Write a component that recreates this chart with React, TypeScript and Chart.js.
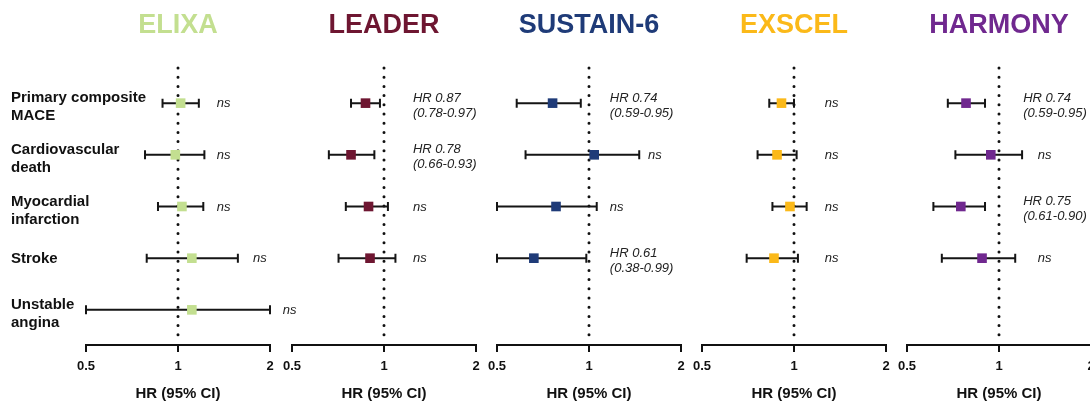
import React, { useEffect, useRef } from 'react';
import { Chart, registerables } from 'chart.js';

Chart.register(...registerables);

const FONT = "'Liberation Sans', Arial, Helvetica, sans-serif";

// ---------- data ----------
const trials = ['ELIXA', 'LEADER', 'SUSTAIN-6', 'EXSCEL', 'HARMONY'];
const trialColors = ['#c3df90', '#6e1631', '#1f3b78', '#fbb919', '#70288f'];
const outcomes = [
  ['Primary composite', 'MACE'],
  ['Cardiovascular', 'death'],
  ['Myocardial', 'infarction'],
  ['Stroke'],
  ['Unstable', 'angina'],
];
const xTicks = [0.5, 1, 2];
const axisTitle = 'HR (95% CI)';

const elixaHR = [1.02, 0.98, 1.03, 1.11, 1.11];
const elixaLow = [0.89, 0.78, 0.86, 0.79, 0.47];
const elixaHigh = [1.17, 1.22, 1.21, 1.57, 2.62];
const elixaNotes = ['ns', 'ns', 'ns', 'ns', 'ns'];

const leaderHR = [0.87, 0.78, 0.89, 0.9, null];
const leaderLow = [0.78, 0.66, 0.75, 0.71, null];
const leaderHigh = [0.97, 0.93, 1.03, 1.09, null];
const leaderNotes = ['HR 0.87\n(0.78-0.97)', 'HR 0.78\n(0.66-0.93)', 'ns', 'ns', null];

const sustainHR = [0.76, 1.04, 0.78, 0.66, null];
const sustainLow = [0.58, 0.62, 0.5, 0.38, null];
const sustainHigh = [0.94, 1.46, 1.06, 0.98, null];
const sustainNotes = ['HR 0.74\n(0.59-0.95)', 'ns', 'ns', 'HR 0.61\n(0.38-0.99)', null];

const exscelHR = [0.91, 0.88, 0.97, 0.86, null];
const exscelLow = [0.83, 0.76, 0.85, 0.7, null];
const exscelHigh = [1.0, 1.02, 1.1, 1.03, null];
const exscelNotes = ['ns', 'ns', 'ns', 'ns', null];

const harmonyHR = [0.78, 0.94, 0.75, 0.88, null];
const harmonyLow = [0.68, 0.72, 0.61, 0.65, null];
const harmonyHigh = [0.9, 1.19, 0.9, 1.13, null];
const harmonyNotes = ['HR 0.74\n(0.59-0.95)', 'ns', 'HR 0.75\n(0.61-0.90)', 'ns', null];

// ---------- layout (annotation anchors in HR units, panel geometry) ----------
const elixaNoteAt = [1.34, 1.34, 1.34, 1.76, 2.2];
const leaderNoteAt = [1.244, 1.244, 1.244, 1.244, null];
const sustainNoteAt = [1.17, 1.56, 1.17, 1.17, null];
const exscelNoteAt = [1.26, 1.26, 1.26, 1.26, null];
const harmonyNoteAt = [1.2, 1.34, 1.2, 1.34, null];

const AXIS_LEFT = [86, 292, 497, 702, 907];
const AXIS_W = 184;
const CANVAS_H = 401;
const ROW_LABEL_X = 11;

const panels = [
  { hr: elixaHR, lo: elixaLow, hi: elixaHigh, notes: elixaNotes, noteAt: elixaNoteAt },
  { hr: leaderHR, lo: leaderLow, hi: leaderHigh, notes: leaderNotes, noteAt: leaderNoteAt },
  { hr: sustainHR, lo: sustainLow, hi: sustainHigh, notes: sustainNotes, noteAt: sustainNoteAt },
  { hr: exscelHR, lo: exscelLow, hi: exscelHigh, notes: exscelNotes, noteAt: exscelNoteAt },
  { hr: harmonyHR, lo: harmonyLow, hi: harmonyHigh, notes: harmonyNotes, noteAt: harmonyNoteAt },
].map((p, i) => ({ ...p, name: trials[i], color: trialColors[i], showRows: i === 0 }));

function geometry(idx: number) {
  const padLeft = idx === 0 ? AXIS_LEFT[0] : 40;
  const left = AXIS_LEFT[idx] - padLeft;
  const width = padLeft + AXIS_W + 70;
  return { left, width, padLeft, padRight: width - padLeft - AXIS_W };
}

function forestPlugin(p: any) {
  return {
    id: 'forest' + p.name,
    beforeDatasetsDraw(chart: any) {
      const { ctx, chartArea } = chart;
      const x = chart.scales.x;
      const y = chart.scales.y;
      const cx = x.getPixelForValue(1);
      ctx.save();
      ctx.strokeStyle = '#111';
      ctx.lineWidth = 3;
      ctx.lineCap = 'round';
      ctx.setLineDash([0, 9.2]);
      ctx.beginPath();
      ctx.moveTo(cx, chartArea.top);
      ctx.lineTo(cx, chartArea.bottom - 4);
      ctx.stroke();
      ctx.setLineDash([]);
      ctx.lineCap = 'butt';
      ctx.lineWidth = 2;
      ctx.strokeStyle = '#151515';
      p.hr.forEach((v: number | null, i: number) => {
        if (v == null) return;
        const yy = y.getPixelForValue(i);
        const x1 = x.getPixelForValue(Math.max(p.lo[i], x.min));
        const x2 = x.getPixelForValue(Math.min(p.hi[i], x.max));
        ctx.beginPath();
        ctx.moveTo(x1, yy);
        ctx.lineTo(x2, yy);
        ctx.moveTo(x1, yy - 4.5);
        ctx.lineTo(x1, yy + 4.5);
        ctx.moveTo(x2, yy - 4.5);
        ctx.lineTo(x2, yy + 4.5);
        ctx.stroke();
      });
      ctx.restore();
    },
    afterDraw(chart: any) {
      const { ctx } = chart;
      const x = chart.scales.x;
      const y = chart.scales.y;
      ctx.save();
      // title
      ctx.fillStyle = p.color;
      ctx.font = `bold 27px ${FONT}`;
      ctx.textAlign = 'center';
      ctx.textBaseline = 'alphabetic';
      ctx.fillText(p.name, x.getPixelForValue(1), 33);
      // row labels
      if (p.showRows) {
        ctx.fillStyle = '#111';
        ctx.font = `bold 15px ${FONT}`;
        ctx.textAlign = 'left';
        outcomes.forEach((lines, i) => {
          const yy = y.getPixelForValue(i);
          if (lines.length === 1) {
            ctx.fillText(lines[0], ROW_LABEL_X, yy + 5);
          } else {
            ctx.fillText(lines[0], ROW_LABEL_X, yy - 1);
            ctx.fillText(lines[1], ROW_LABEL_X, yy + 17);
          }
        });
      }
      // annotations
      ctx.fillStyle = '#222';
      ctx.font = `italic 13px ${FONT}`;
      ctx.textAlign = 'left';
      p.notes.forEach((n: string | null, i: number) => {
        if (!n) return;
        const yy = y.getPixelForValue(i);
        const xx = x.getPixelForValue(p.noteAt[i]);
        const lines = n.split('\n');
        if (lines.length === 1) {
          ctx.fillText(lines[0], xx, yy + 4);
        } else {
          ctx.fillText(lines[0], xx, yy - 1.5);
          ctx.fillText(lines[1], xx, yy + 13.5);
        }
      });
      ctx.restore();
    },
  };
}

function Panel({ idx }: { idx: number }) {
  const ref = useRef<HTMLCanvasElement | null>(null);
  const g = geometry(idx);
  useEffect(() => {
    const p = panels[idx];
    const data = p.hr
      .map((v: number | null, i: number) => (v == null ? null : { x: v, y: i }))
      .filter(Boolean);
    const chart = new Chart(ref.current as HTMLCanvasElement, {
      type: 'scatter',
      data: {
        datasets: [
          {
            data: data as any,
            pointStyle: 'rect',
            pointRadius: 6.8,
            pointHoverRadius: 6.8,
            backgroundColor: p.color,
            borderWidth: 0,
            clip: false as any,
          },
        ],
      },
      plugins: [forestPlugin(p)],
      options: {
        animation: false,
        responsive: false,
        devicePixelRatio: 1,
        events: [],
        layout: { padding: { left: g.padLeft, right: g.padRight, top: 68, bottom: 0 } },
        plugins: { legend: { display: false }, tooltip: { enabled: false }, title: { display: false } },
        scales: {
          x: {
            type: 'logarithmic',
            min: 0.5,
            max: 2,
            afterBuildTicks: (s: any) => {
              s.ticks = xTicks.map((v) => ({ value: v }));
            },
            afterFit: (s: any) => {
              s.height = CANVAS_H - 345;
            },
            ticks: {
              callback: (v: any) => String(v),
              autoSkip: false,
              maxRotation: 0,
              padding: 7,
              color: '#111',
              font: { family: FONT, weight: 'bold', size: 13 },
            },
            grid: {
              display: true,
              drawOnChartArea: false,
              drawTicks: true,
              tickLength: 7,
              color: '#111',
              lineWidth: 2,
            },
            border: { display: true, color: '#111', width: 2 },
            title: {
              display: true,
              text: axisTitle,
              color: '#111',
              font: { family: FONT, weight: 'bold', size: 15 },
              padding: { top: 4, bottom: -2 },
            },
          },
          y: {
            type: 'linear',
            min: -0.68,
            max: 4.68,
            reverse: true,
            display: false,
          },
        },
      } as any,
    });
    return () => chart.destroy();
  }, [idx]);
  return (
    <canvas
      ref={ref}
      width={g.width}
      height={CANVAS_H}
      style={{ position: 'absolute', left: g.left, top: 0, width: g.width, height: CANVAS_H }}
    />
  );
}

export default function App() {
  return (
    <div
      style={{
        position: 'absolute',
        left: 0,
        top: 0,
        width: 1090,
        height: CANVAS_H,
        overflow: 'hidden',
        background: '#ffffff',
      }}
    >
      {panels.map((_, i) => (
        <Panel key={i} idx={i} />
      ))}
    </div>
  );
}
